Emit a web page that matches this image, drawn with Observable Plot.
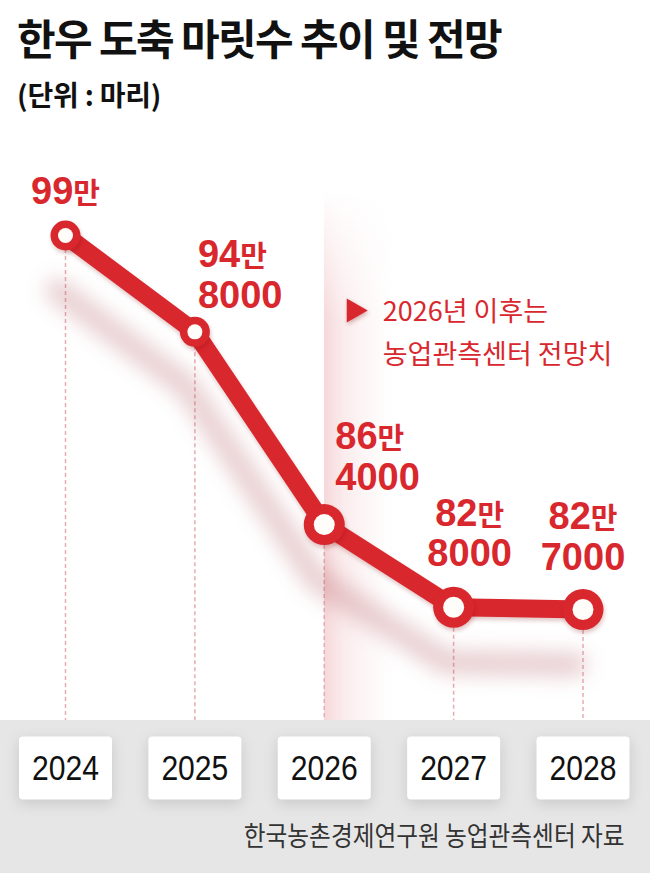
<!DOCTYPE html>
<html><head><meta charset="utf-8">
<script src="https://cdn.jsdelivr.net/npm/d3@7"></script>
<script src="https://cdn.jsdelivr.net/npm/@observablehq/plot@0.6"></script>
<style>
html,body{margin:0;padding:0;background:#fff;width:650px;height:873px;overflow:hidden;}
#wrap{position:relative;width:650px;height:873px;}
#title{position:absolute;left:17px;top:16px;font-family:"Noto Sans CJK KR",sans-serif;font-weight:700;font-size:42px;line-height:42px;letter-spacing:-1.6px;color:#111;white-space:nowrap;}
#subtitle{position:absolute;left:17px;top:80px;font-family:"Noto Sans CJK KR",sans-serif;font-weight:700;font-size:28px;line-height:28px;letter-spacing:-0.2px;color:#111;white-space:nowrap;}
#chart{position:absolute;left:0;top:130px;}
</style></head><body>
<div id="wrap">
  <div id="title"></div>
  <div id="subtitle"></div>
  <div id="chart"></div>
</div>
<script>
// ---- data ----
const titleText = "한우 도축 마릿수 추이 및 전망";
const unitText = "(단위 : 마리)";
const years = [2024, 2025, 2026, 2027, 2028];
const yearLabels = ["2024", "2025", "2026", "2027", "2028"];
const heads = [990000, 948000, 864000, 828000, 827000];
const forecastStart = 2026;
const noteText = "2026년 이후는\n농업관측센터 전망치";
const sourceText = "한국농촌경제연구원 농업관측센터 자료";

// ---- styles / layout ----
const RED = "#d9272e";
const labelLayout = {
  2024: {textAnchor: "middle", dx: 0, dy: -32},
  2025: {textAnchor: "start", dx: 3, dy: -24},
  2026: {textAnchor: "start", dx: 11, dy: -35},
  2027: {textAnchor: "middle", dx: 16, dy: -41},
  2028: {textAnchor: "middle", dx: 0, dy: -40}
};

document.getElementById("title").textContent = titleText;
document.getElementById("subtitle").textContent = unitText;

const fmt = (v) => `${Math.floor(v / 10000)}만` + (v % 10000 ? `\n${v % 10000}` : "");
const data = years.map((year, i) => ({year, value: heads[i], label: fmt(heads[i]), tick: yearLabels[i]}));
const past = (d) => d.year < forecastStart;
const fut = (d) => d.year >= forecastStart;
const minHeads = d3.min(heads);

const roundBox = {
  draw(ctx) {
    const w = 93, h = 63, r = 4, x0 = -w / 2, y0 = -h / 2, x1 = w / 2, y1 = h / 2;
    ctx.moveTo(x0 + r, y0);
    ctx.lineTo(x1 - r, y0); ctx.arcTo(x1, y0, x1, y0 + r, r);
    ctx.lineTo(x1, y1 - r); ctx.arcTo(x1, y1, x1 - r, y1, r);
    ctx.lineTo(x0 + r, y1); ctx.arcTo(x0, y1, x0, y1 - r, r);
    ctx.lineTo(x0, y0 + r); ctx.arcTo(x0, y0, x0 + r, y0, r);
    ctx.closePath();
  }
};

const W = 650, H = 743;
const chart = Plot.plot({
  width: W,
  height: H,
  marginLeft: 0, marginRight: 0, marginTop: 60, marginBottom: 153,
  style: {background: "linear-gradient(to bottom, #ffffff 590px, #e6e6e6 590px)", overflow: "visible"},
  x: {domain: [years[0], years[years.length - 1]], range: [65, 582.5], axis: null},
  y: {domain: [minHeads, d3.max(heads)], range: [479, 105], axis: null},
  marks: [
    // forecast band
    Plot.rect([forecastStart], {x1: (d) => d, x2: () => years[years.length - 1], fill: "url(#bandGrad)", ariaDescription: "band"}),
    // dashed guides down to the axis band
    Plot.ruleX(data, {x: "year", y1: "value", y2: () => minHeads, insetBottom: -111, stroke: "#e6aeb2", strokeWidth: 1.5, strokeDasharray: "4,3"}),
    // shadow
    Plot.line(data, {x: "year", y: "value", dx: -8, dy: 55, stroke: "#a8434a", strokeOpacity: 0.26, strokeWidth: 24, ariaDescription: "shadow"}),
    // line and points
    Plot.line(data, {x: "year", y: "value", stroke: RED, strokeWidth: 18, ariaDescription: "main"}),
    Plot.dot(data, {filter: past, x: "year", y: "value", r: 15, fill: RED, ariaDescription: "main"}),
    Plot.dot(data, {filter: fut, x: "year", y: "value", r: 20.5, fill: RED, ariaDescription: "main"}),
    Plot.dot(data, {filter: past, x: "year", y: "value", r: 7.5, fill: "#fffdf9"}),
    Plot.dot(data, {filter: fut, x: "year", y: "value", r: 10.5, fill: "#fffdf9"}),
    // value labels
    ...years.map((yr) => Plot.text(data, {
      filter: (d) => d.year === yr, x: "year", y: "value", text: "label",
      textAnchor: labelLayout[yr].textAnchor, dx: labelLayout[yr].dx, dy: labelLayout[yr].dy,
      lineAnchor: "bottom", lineHeight: 1.07, fontSize: 38, fontWeight: 700,
      fontFamily: "Liberation Sans, Arial, sans-serif", fill: RED, ariaDescription: "labels"
    })),
    // forecast note
    Plot.dot([forecastStart], {x: (d) => d, frameAnchor: "top", dx: 29.5, dy: 120, symbol: "triangle", rotate: 90, r: 9, fill: RED, ariaDescription: "tri"}),
    Plot.text([noteText], {x: () => forecastStart, text: (d) => d, frameAnchor: "top", dx: 58.5, dy: 173,
      textAnchor: "start", lineAnchor: "bottom", lineHeight: 1.56, fontSize: 27,
      fontFamily: "Noto Sans CJK KR, sans-serif", fill: RED, letterSpacing: -0.3}),
    // x axis boxes
    Plot.dot(data, {x: "year", frameAnchor: "bottom", dy: 47.5, symbol: roundBox, fill: "#ffffff", ariaDescription: "boxes"}),
    Plot.text(data, {x: "year", text: "tick", frameAnchor: "bottom", dy: 59, lineAnchor: "bottom", fontSize: 35,
      fontFamily: "Liberation Sans Narrow, Liberation Sans, Arial, sans-serif", fill: "#111", ariaDescription: "years"}),
    // source
    Plot.text([sourceText], {text: (d) => d, frameAnchor: "bottom-right", dx: -26, dy: 125, textAnchor: "end", lineAnchor: "bottom",
      fontSize: 27, fontFamily: "Noto Sans CJK KR, sans-serif", fill: "#333", ariaDescription: "source"})
  ]
});

// ---- decorations ----
const svg = d3.select(chart);
const defs = svg.insert("defs", ":first-child");
const bg = defs.append("linearGradient").attr("id", "bandGrad").attr("x1", 0).attr("x2", 1).attr("y1", 0).attr("y2", 0);
bg.append("stop").attr("offset", 0).attr("stop-color", "#eaa6ab").attr("stop-opacity", 0.45);
bg.append("stop").attr("offset", 0.08).attr("stop-color", "#f0c0c3").attr("stop-opacity", 0.3);
bg.append("stop").attr("offset", 0.28).attr("stop-color", "#f6dadc").attr("stop-opacity", 0);
const mg = defs.append("linearGradient").attr("id", "bandMaskGrad").attr("x1", 0).attr("x2", 0).attr("y1", 0).attr("y2", 1);
mg.append("stop").attr("offset", 0).attr("stop-color", "#fff").attr("stop-opacity", 0);
mg.append("stop").attr("offset", 0.25).attr("stop-color", "#fff").attr("stop-opacity", 1);
mg.append("stop").attr("offset", 1).attr("stop-color", "#fff").attr("stop-opacity", 1);
defs.append("mask").attr("id", "bandMask").attr("maskContentUnits", "objectBoundingBox")
  .append("rect").attr("width", 1).attr("height", 1).attr("fill", "url(#bandMaskGrad)");
svg.selectAll('g[aria-description="band"]').attr("mask", "url(#bandMask)");
svg.selectAll('g[aria-description="shadow"]').style("filter", "blur(10px)");
svg.selectAll('g[aria-description="main"]').style("filter", "drop-shadow(1px 3px 2px rgba(120,0,0,0.22))");
svg.selectAll('g[aria-description="tri"]').style("filter", "drop-shadow(1px 2px 2px rgba(120,0,0,0.3))");
svg.selectAll('g[aria-description="boxes"]').style("filter", "drop-shadow(0px 4px 7px rgba(0,0,0,0.13))");
svg.selectAll('g[aria-description="years"] text').attr("textLength", 67).attr("lengthAdjust", "spacingAndGlyphs");
// smaller "만"
chart.querySelectorAll('g[aria-description="labels"] text, g[aria-description="labels"] tspan').forEach((el) => {
  for (const node of [...el.childNodes]) {
    if (node.nodeType === 3 && node.nodeValue.includes("만")) {
      const [a, b] = node.nodeValue.split("만");
      const t = document.createElementNS("http://www.w3.org/2000/svg", "tspan");
      t.setAttribute("font-size", 29);
      t.setAttribute("font-family", "Noto Sans CJK KR, sans-serif");
      t.textContent = "만";
      el.insertBefore(document.createTextNode(a), node);
      el.insertBefore(t, node);
      node.nodeValue = b;
    }
  }
});
document.getElementById("chart").appendChild(chart);
// condense the source line horizontally to the reference's width
chart.querySelectorAll('g[aria-description="source"] text').forEach((el) => {
  const len = el.getComputedTextLength();
  const k = len > 0 ? Math.min(1, 381 / len) : 1;
  el.setAttribute("transform", `${el.getAttribute("transform") || ""} scale(${k},1)`);
});
</script>
</body></html>
